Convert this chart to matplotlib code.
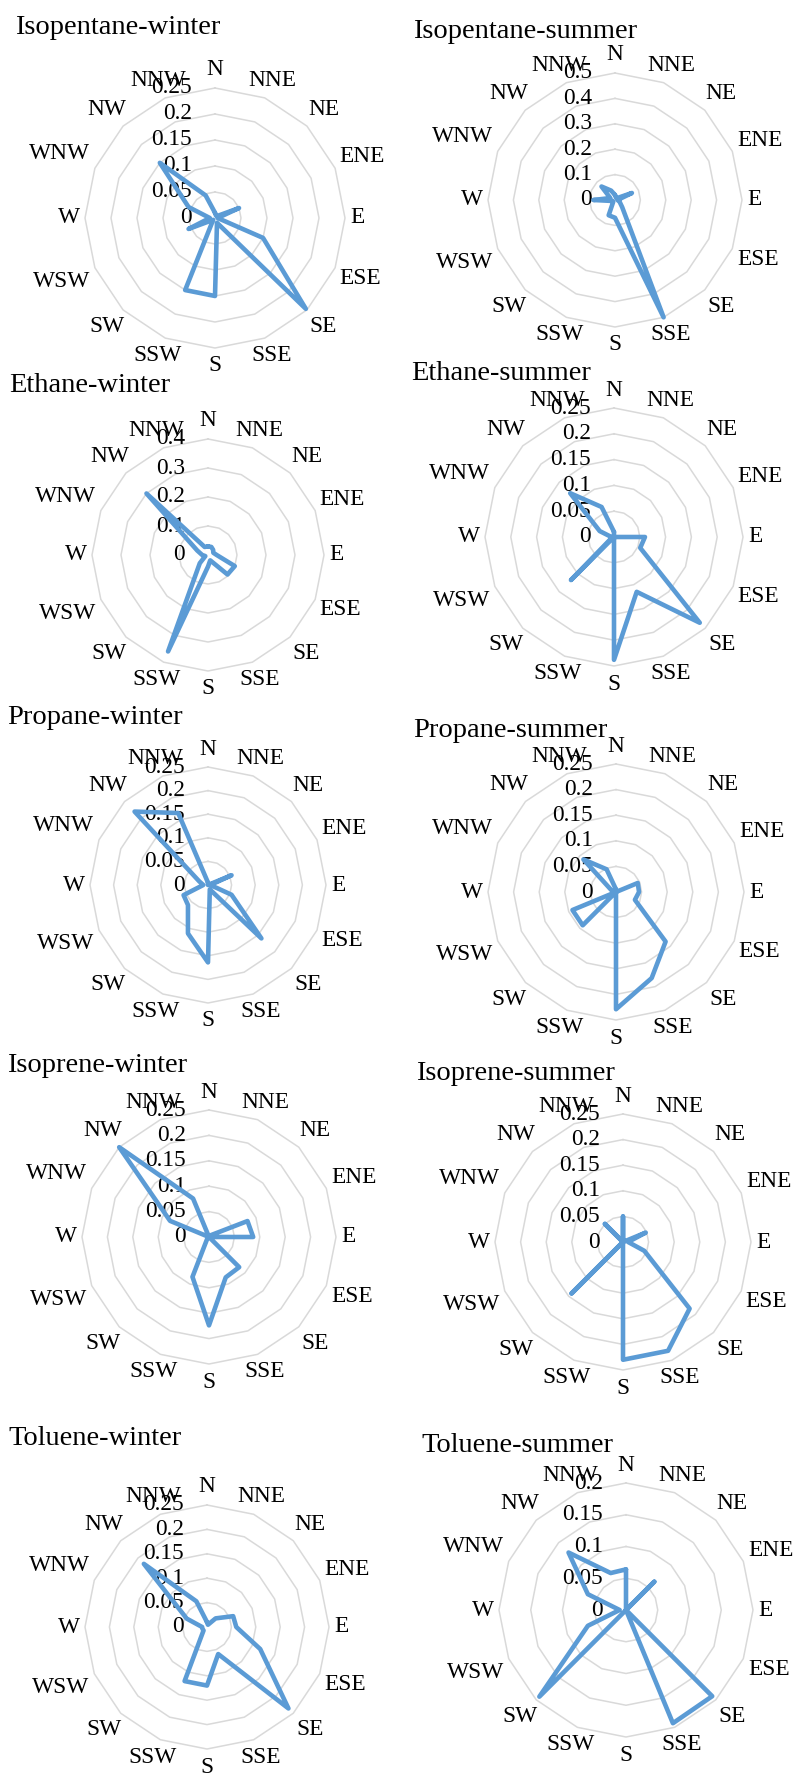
import numpy as np
import matplotlib
matplotlib.use('Agg')
import matplotlib.pyplot as plt

plt.rcParams['font.family'] = ['Liberation Serif', 'DejaVu Serif']

directions = ['N', 'NNE', 'NE', 'ENE', 'E', 'ESE', 'SE', 'SSE',
              'S', 'SSW', 'SW', 'WSW', 'W', 'WNW', 'NW', 'NNW']

titles = ['Isopentane-winter', 'Isopentane-summer',
          'Ethane-winter', 'Ethane-summer',
          'Propane-winter', 'Propane-summer',
          'Isoprene-winter', 'Isoprene-summer',
          'Toluene-winter', 'Toluene-summer']

# values per direction, N first, going clockwise
isopentane_winter = [0.01, 0.005, 0.005, 0.05, 0.005, 0.10, 0.247, 0.01,
                     0.15, 0.15, 0.005, 0.055, 0.01, 0.055, 0.15, 0.047]
isopentane_summer = [0.02, 0.01, 0.01, 0.072, 0.01, 0.02, 0.04, 0.5,
                     0.07, 0.065, 0.01, 0.01, 0.085, 0.02, 0.075, 0.04]
ethane_winter = [0.03, 0.03, 0.025, 0.02, 0.03, 0.10, 0.095, 0.02,
                 0.04, 0.36, 0.04, 0.01, 0.02, 0.04, 0.30, 0.03]
ethane_summer = [0.01, 0.0, 0.0, 0.0, 0.06, 0.055, 0.235, 0.115,
                 0.238, 0.0, 0.118, 0.005, 0.005, 0.03, 0.12, 0.063]
propane_winter = [0.005, 0.0, 0.0, 0.054, 0.005, 0.054, 0.16, 0.01,
                  0.164, 0.111, 0.06, 0.056, 0.01, 0.02, 0.22, 0.165]
propane_summer = [0.005, 0.0, 0.0, 0.046, 0.045, 0.04, 0.137, 0.182,
                  0.229, 0.0, 0.092, 0.092, 0.0, 0.01, 0.09, 0.048]
isoprene_winter = [0.0, 0.0, 0.005, 0.082, 0.087, 0.0, 0.084, 0.086,
                   0.174, 0.085, 0.005, 0.0, 0.0, 0.083, 0.25, 0.082]
isoprene_summer = [0.05, 0.0, 0.0, 0.048, 0.01, 0.045, 0.184, 0.23,
                   0.23, 0.0, 0.142, 0.0, 0.0, 0.0, 0.05, 0.0]
toluene_winter = [0.01, 0.005, 0.025, 0.058, 0.06, 0.118, 0.236, 0.06,
                  0.12, 0.12, 0.01, 0.01, 0.01, 0.045, 0.183, 0.057]
toluene_summer = [0.064, 0.0, 0.063, 0.0, 0.0, 0.0, 0.192, 0.193,
                  0.0, 0.0, 0.193, 0.065, 0.01, 0.065, 0.128, 0.063]

series = [isopentane_winter, isopentane_summer, ethane_winter, ethane_summer,
          propane_winter, propane_summer, isoprene_winter, isoprene_summer,
          toluene_winter, toluene_summer]
r_max = [0.25, 0.5, 0.4, 0.25, 0.25, 0.25, 0.25, 0.25, 0.25, 0.2]
r_step = [0.05, 0.1, 0.1, 0.05, 0.05, 0.05, 0.05, 0.05, 0.05, 0.05]

# panel layout in pixels: centre x, centre y, radius
centres = [(215, 218, 130), (615, 200, 127),
           (208, 555, 116), (614, 537, 129),
           (208, 885, 118), (616, 892, 128),
           (209, 1237, 127), (623, 1242, 128),
           (207, 1627, 122), (626, 1610, 127)]
title_pos = [(15, 28), (413, 32),
             (9, 385), (411, 373),
             (7, 717), (413, 730),
             (7, 1065), (416, 1073),
             (8, 1438), (421, 1445)]

W, H = 797, 1776
LINE = '#5B9BD5'
GRID = '#D9D9D9'
FS = 16.8
TITLE_FS = 20.5
fs_px = FS * 100 / 72
char_w = {'N': 0.722, 'E': 0.611, 'S': 0.556, 'W': 0.944}

fig = plt.figure(figsize=(W / 100, H / 100), dpi=100)
theta = np.linspace(0, 2 * np.pi, 17)

for k in range(10):
    cx, cy, R = centres[k]
    rmax, step = r_max[k], r_step[k]
    ax = fig.add_axes([(cx - R) / W, 1 - (cy + R) / H, 2 * R / W, 2 * R / H],
                      projection='polar')
    ax.set_theta_zero_location('N')
    ax.set_theta_direction(-1)
    ax.set_ylim(0, rmax)
    ax.grid(False)
    ax.set_xticks([])
    ax.set_yticks([])
    ax.spines['polar'].set_visible(False)
    ax.set_facecolor('none')

    ticks = np.arange(0, rmax + step / 2, step)
    for t in ticks[1:]:
        ax.plot(theta, [t] * 17, color=GRID, lw=1.1, zorder=1, clip_on=False)

    for t in ticks:
        ax.annotate(f'{round(t, 3):g}', xy=(0, t), xytext=(-23, 0),
                    textcoords='offset pixels', ha='right', va='center',
                    fontsize=FS, zorder=2, annotation_clip=False)

    vals = list(series[k]) + [series[k][0]]
    ax.plot(theta, vals, color=LINE, lw=3.3, solid_joinstyle='round',
            solid_capstyle='round', zorder=3, clip_on=False)

    # category labels: push the box edge a fixed gap past the outer ring
    for i, lab in enumerate(directions):
        a = theta[i]
        s, c = np.sin(a), np.cos(a)
        hw = sum(char_w[ch] for ch in lab) * fs_px / 2
        hh = 13
        dx = hw / abs(s) if abs(s) > 1e-6 else 1e9
        dy = hh / abs(c) if abs(c) > 1e-6 else 1e9
        off = 5 + min(dx, dy)
        ax.annotate(lab, xy=(a, rmax), xytext=(off * s, off * c),
                    textcoords='offset pixels', ha='center', va='center',
                    fontsize=FS, annotation_clip=False)

    tx, ty = title_pos[k]
    fig.text(tx / W, 1 - ty / H, titles[k], ha='left', va='center',
             fontsize=TITLE_FS)

fig.savefig('out.png', dpi=100, facecolor='white')
